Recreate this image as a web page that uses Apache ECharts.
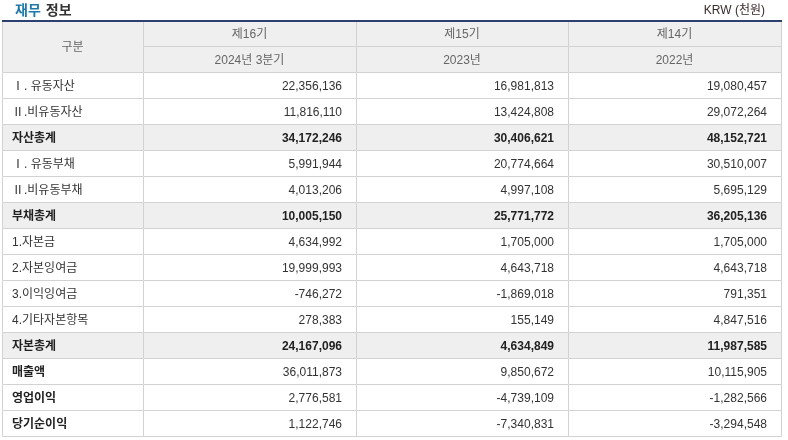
<!DOCTYPE html>
<html>
<head>
<meta charset="utf-8">
<script src="https://cdn.jsdelivr.net/npm/echarts@6/dist/echarts.min.js"></script>
<style>
  body { margin: 0; background: #fff; }
  #main { width: 788px; height: 440px; }
</style>
</head>
<body>
<div id="main"></div>
<script>
var periods = ['제16기', '제15기', '제14기'];
var periodDates = ['2024년 3분기', '2023년', '2022년'];
var items = ['Ⅰ. 유동자산', 'Ⅱ.비유동자산', '자산총계', 'Ⅰ. 유동부채', 'Ⅱ.비유동부채', '부채총계',
    '1.자본금', '2.자본잉여금', '3.이익잉여금', '4.기타자본항목', '자본총계', '매출액', '영업이익', '당기순이익'];
var q3_2024 = [22356136, 11816110, 34172246, 5991944, 4013206, 10005150,
    4634992, 19999993, -746272, 278383, 24167096, 36011873, 2776581, 1122746];
var fy2023 = [16981813, 13424808, 30406621, 20774664, 4997108, 25771772,
    1705000, 4643718, -1869018, 155149, 4634849, 9850672, -4739109, -7340831];
var fy2022 = [19080457, 29072264, 48152721, 30510007, 5695129, 36205136,
    1705000, 4643718, 791351, 4847516, 11987585, 10115905, -1282566, -3294548];
var totalItems = ['자산총계', '부채총계', '자본총계'];
var boldItems = ['매출액', '영업이익', '당기순이익'];

// column edges in px along the hidden x axis
var colEdges = [0, 141, 354, 566, 779];
var FONT = '"Liberation Sans", "Noto Sans CJK KR", sans-serif';

var chartDom = document.getElementById('main');
var myChart = echarts.init(chartDom);
var option;

var rowKeys = ['head1', 'head2'].concat(items);
var columns = [q3_2024, fy2023, fy2022];
var cells = [];

cells.push({ value: [0, 0], text: '구분', kind: 'head', span: 2 });
periods.forEach(function (p, i) {
    cells.push({ value: [i + 1, 0], text: p, kind: 'head', span: 1 });
    cells.push({ value: [i + 1, 1], text: periodDates[i], kind: 'head', span: 1 });
});
items.forEach(function (name, r) {
    var kind = 'body';
    if (totalItems.indexOf(name) > -1) kind = 'total';
    else if (boldItems.indexOf(name) > -1) kind = 'strong';
    cells.push({ value: [0, r + 2], text: name, kind: kind, span: 1, label: true });
    columns.forEach(function (col, c) {
        cells.push({ value: [c + 1, r + 2], text: col[r].toLocaleString('en-US'), kind: kind, span: 1 });
    });
});

function renderCell(params, api) {
    var cell = cells[params.dataIndex];
    var col = api.value(0);
    var row = api.value(1);
    var h = api.size([0, 1])[1];
    var left = api.coord([colEdges[col], row]);
    var right = api.coord([colEdges[col + 1], row]);
    var x0 = Math.round(left[0]);
    var x1 = Math.round(right[0]);
    var y0 = Math.round(left[1] - h / 2);
    var y1 = Math.round(left[1] - h / 2 + h * cell.span);
    var grey = cell.kind === 'head' || cell.kind === 'total';

    var children = [
        { type: 'rect', shape: { x: x0, y: y0, width: x1 - x0, height: y1 - y0 },
          style: { fill: grey ? '#efefef' : '#fff' } },
        { type: 'rect', shape: { x: x0 + 0.5, y: y0 + 0.5, width: x1 - x0, height: y1 - y0 },
          style: { fill: null, stroke: '#d2d2d2', lineWidth: 1 } }
    ];

    var tx, align;
    if (cell.kind === 'head') { tx = (x0 + x1) / 2; align = 'center'; }
    else if (cell.label) { tx = x0 + 10; align = 'left'; }
    else { tx = x1 - 14; align = 'right'; }
    var bold = cell.kind === 'total' || (cell.kind === 'strong' && cell.label);

    children.push({
        type: 'text',
        style: {
            text: cell.text, x: tx, y: (y0 + y1) / 2 + 2, align: align, verticalAlign: 'middle',
            fontFamily: FONT, fontSize: 12, fontWeight: bold ? 'bold' : 'normal',
            fill: cell.kind === 'head' ? '#666' : (bold ? '#222' : '#333')
        }
    });
    if (row === 0) {
        children.push({ type: 'rect', shape: { x: x0, y: y0, width: x1 - x0 + 1, height: 2 },
            style: { fill: '#2c4172' } });
    }
    return { type: 'group', children: children };
}

option = {
    animation: false,
    title: [
        {
            left: 10, top: -3,
            text: '{a|재무} {b|정보}',
            textStyle: {
                rich: {
                    a: { color: '#1f7aa8', fontWeight: 'bold', fontSize: 14, fontFamily: FONT },
                    b: { color: '#333', fontWeight: 'bold', fontSize: 14, fontFamily: FONT }
                }
            }
        },
        {
            right: 18, top: 0,
            text: 'KRW (천원)',
            textStyle: { fontSize: 12, fontWeight: 'normal', color: '#3a2b2b', fontFamily: FONT }
        }
    ],
    grid: { left: 2, right: 7, top: 20, bottom: 4 },
    xAxis: { type: 'value', min: 0, max: 779, show: false },
    yAxis: { type: 'category', data: rowKeys, inverse: true, show: false },
    series: [
        {
            type: 'custom',
            silent: true,
            renderItem: renderCell,
            encode: { x: 0, y: 1 },
            data: cells
        }
    ]
};

option && myChart.setOption(option);
</script>
</body>
</html>
